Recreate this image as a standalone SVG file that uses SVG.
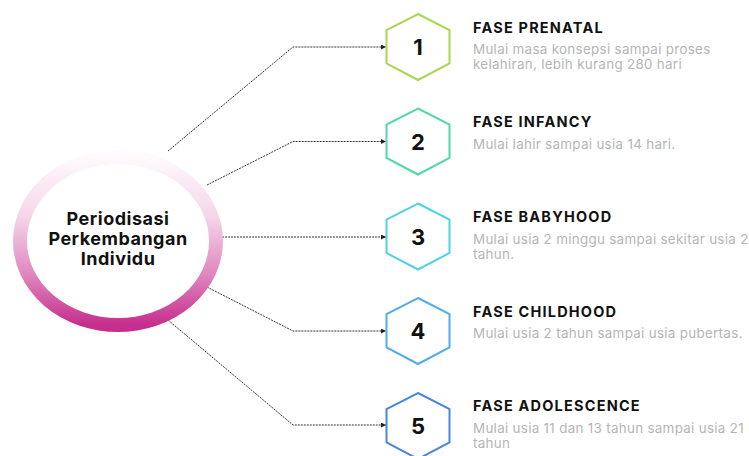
<svg xmlns="http://www.w3.org/2000/svg" width="749" height="456" viewBox="0 0 749 456">
  <style>
    .title { font-family: Inter, "Liberation Sans", sans-serif; font-weight: 700; font-size: 14.5px; letter-spacing: 1.2px; fill: #111111; }
    .desc { font-family: Inter, "Liberation Sans", sans-serif; font-size: 13.4px; letter-spacing: 0.3px; fill: #b5b5b5; }
    .num { font-family: Inter, "Liberation Sans", sans-serif; font-weight: 700; font-size: 22px; fill: #111111; text-anchor: middle; }
    .hub { font-family: Inter, "Liberation Sans", sans-serif; font-weight: 700; font-size: 18px; letter-spacing: 0.5px; fill: #111111; text-anchor: middle; }
    .hex { fill: #ffffff; stroke-width: 2; }
    .link { fill: none; stroke: #333333; stroke-width: 1; stroke-dasharray: 2 1; marker-end: url(#arrow); }
  </style>
  <defs>
    <linearGradient id="ringGrad" x1="0" y1="0" x2="0" y2="1">
      <stop offset="0" stop-color="#fefafd"/>
      <stop offset="0.35" stop-color="#f5d6ea"/>
      <stop offset="0.7" stop-color="#df86be"/>
      <stop offset="1" stop-color="#c52e8d"/>
    </linearGradient>
    <marker id="arrow" viewBox="0 0 6 6" refX="6" refY="3" markerWidth="5" markerHeight="5" orient="auto" markerUnits="userSpaceOnUse">
      <path d="M0,0 L6,3 L0,6 Z" fill="#222222"/>
    </marker>
    <polygon id="hexShape" points="0,-33 31.5,-17 31.5,16.5 0,33 -31.5,16.5 -31.5,-17"/>
  </defs>

  <rect width="749" height="456" fill="#ffffff"/>

  <!-- dashed connectors from the hub to each phase -->
  <g id="connectors">
    <polyline class="link" points="168,151 293,47 386,47"/>
    <polyline class="link" points="207,185 293,141.5 386,141.5"/>
    <polyline class="link" points="222,237 386,237"/>
    <polyline class="link" points="207,287 293,331 386,331"/>
    <polyline class="link" points="168,320 293,425 386,425"/>
  </g>

  <!-- central hub -->
  <g id="hub">
    <ellipse cx="118" cy="241" rx="98" ry="84" fill="#ffffff" stroke="url(#ringGrad)" stroke-width="14"/>
    <text class="hub" x="118" y="225">Periodisasi</text>
    <text class="hub" x="118" y="245">Perkembangan</text>
    <text class="hub" x="118" y="265">Individu</text>
  </g>

  <g id="phase1">
    <use href="#hexShape" x="418" y="47" class="hex" stroke="#a9d651"/>
    <text class="num" x="418" y="55">1</text>
    <text class="title" x="473" y="33">FASE PRENATAL</text>
    <text class="desc" x="473" y="54">Mulai masa konsepsi sampai proses</text>
    <text class="desc" x="473" y="69">kelahiran, lebih kurang 280 hari</text>
  </g>

  <g id="phase2">
    <use href="#hexShape" x="418" y="141.5" class="hex" stroke="#52d8a6"/>
    <text class="num" x="418" y="149.5">2</text>
    <text class="title" x="473" y="127">FASE INFANCY</text>
    <text class="desc" x="473" y="149">Mulai lahir sampai usia 14 hari.</text>
  </g>

  <g id="phase3">
    <use href="#hexShape" x="418" y="236.5" class="hex" stroke="#4fd3e3"/>
    <text class="num" x="418" y="244.5">3</text>
    <text class="title" x="473" y="222">FASE BABYHOOD</text>
    <text class="desc" x="473" y="244">Mulai usia 2 minggu sampai sekitar usia 2</text>
    <text class="desc" x="473" y="259">tahun.</text>
  </g>

  <g id="phase4">
    <use href="#hexShape" x="418" y="331" class="hex" stroke="#52ace8"/>
    <text class="num" x="418" y="339">4</text>
    <text class="title" x="473" y="317">FASE CHILDHOOD</text>
    <text class="desc" x="473" y="338">Mulai usia 2 tahun sampai usia pubertas.</text>
  </g>

  <g id="phase5">
    <use href="#hexShape" x="418" y="426" class="hex" stroke="#4a86de"/>
    <text class="num" x="418" y="434">5</text>
    <text class="title" x="473" y="411">FASE ADOLESCENCE</text>
    <text class="desc" x="473" y="433">Mulai usia 11 dan 13 tahun sampai usia 21</text>
    <text class="desc" x="473" y="448">tahun</text>
  </g>
</svg>
